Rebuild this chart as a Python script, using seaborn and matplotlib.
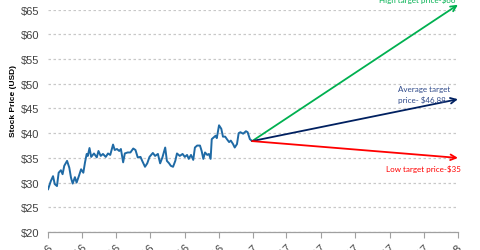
import matplotlib
matplotlib.use("Agg")
import matplotlib.pyplot as plt
import seaborn as sns
import pandas as pd

# ---- data ----
price_dates = [
    "2016-01-01", "2016-01-06", "2016-01-10", "2016-01-13", "2016-01-17", "2016-01-20",
    "2016-01-24", "2016-01-27", "2016-01-30", "2016-02-04", "2016-02-08", "2016-02-11",
    "2016-02-14", "2016-02-18", "2016-02-21", "2016-02-25", "2016-02-29", "2016-03-04",
    "2016-03-07", "2016-03-10", "2016-03-12", "2016-03-15", "2016-03-18", "2016-03-23",
    "2016-03-28", "2016-03-31", "2016-04-04", "2016-04-08", "2016-04-13", "2016-04-17",
    "2016-04-21", "2016-04-26", "2016-04-29", "2016-05-03", "2016-05-07", "2016-05-10",
    "2016-05-14", "2016-05-17", "2016-05-22", "2016-05-27", "2016-06-01", "2016-06-05",
    "2016-06-09", "2016-06-14", "2016-06-17", "2016-06-22", "2016-06-26", "2016-06-30",
    "2016-07-06", "2016-07-10", "2016-07-15", "2016-07-19", "2016-07-23", "2016-07-28",
    "2016-07-31", "2016-08-04", "2016-08-07", "2016-08-11", "2016-08-15", "2016-08-18",
    "2016-08-23", "2016-08-28", "2016-09-01", "2016-09-05", "2016-09-08", "2016-09-12",
    "2016-09-16", "2016-09-19", "2016-09-23", "2016-09-28", "2016-10-01", "2016-10-04",
    "2016-10-07", "2016-10-11", "2016-10-14", "2016-10-17", "2016-10-19", "2016-10-23",
    "2016-10-26", "2016-10-28", "2016-11-01", "2016-11-05", "2016-11-08", "2016-11-12",
    "2016-11-15", "2016-11-19", "2016-11-22", "2016-11-26", "2016-11-29", "2016-12-03",
    "2016-12-06", "2016-12-09", "2016-12-14", "2016-12-19", "2016-12-22", "2016-12-26",
    "2016-12-30",
]
prices = [
    28.6, 30.3, 31.3, 29.7, 29.3, 32.0,
    32.5, 31.7, 33.4, 34.4, 33.0, 31.0,
    29.8, 31.1, 30.0, 31.3, 32.7, 32.0,
    34.1, 35.8, 35.4, 37.0, 35.2, 35.9,
    35.1, 36.4, 35.4, 35.8, 35.2, 35.9,
    35.6, 37.7, 36.6, 36.8, 36.4, 36.8,
    34.1, 35.9, 36.1, 36.1, 36.9, 36.6,
    35.1, 35.2, 34.4, 33.2, 33.9, 35.2,
    36.0, 35.4, 35.8, 33.9, 35.1, 37.1,
    34.4, 33.9, 33.4, 33.2, 34.4, 35.9,
    35.4, 35.8, 35.2, 35.6, 34.8, 35.6,
    34.6, 37.1, 37.5, 37.5, 36.4, 34.8,
    36.1, 35.6, 35.8, 34.8, 38.8, 39.2,
    39.5, 39.0, 41.6, 40.9, 39.3, 39.3,
    38.8, 38.2, 38.5, 37.8, 37.1, 37.8,
    40.0, 40.2, 39.9, 40.4, 40.2, 38.8,
    38.4,
]
target_date = "2018-01-01"
target_names = ["High target price-$66", "Average target\nprice- $46.88", "Low target price-$35"]
target_values = [66.0, 46.88, 35.0]
target_colors = ["#00B050", "#002060", "#FF0000"]
target_text_colors = ["#00B050", "#2F4A8A", "#FF0000"]
xtick_dates = pd.date_range("2016-01-01", "2018-01-01", freq="2MS")
yticks = [20, 25, 30, 35, 40, 45, 50, 55, 60, 65]

df = pd.DataFrame({"date": pd.to_datetime(price_dates), "price": prices})

# ---- style ----
sns.set_style("white")
plt.rcParams["font.family"] = ["Liberation Sans", "DejaVu Sans"]

fig = plt.figure(figsize=(4.8, 2.51), dpi=100)
ax = fig.add_axes([0.1, 0.0717, 0.854, 0.8857])

sns.lineplot(data=df, x="date", y="price", ax=ax, color="#1F6AA5", linewidth=1.4)

start_date = df["date"].iloc[-1]
start_val = df["price"].iloc[-1]
tdate = pd.Timestamp(target_date)
for name, val, col in zip(target_names, target_values, target_colors):
    ax.annotate("", xy=(tdate, val), xytext=(start_date, start_val),
                arrowprops=dict(arrowstyle="->", color=col, lw=1.3,
                                shrinkA=0, shrinkB=0, mutation_scale=10),
                annotation_clip=False)

text_font = ["Lato", "DejaVu Sans"]
fs = 5.8
ax.annotate(target_names[0], xy=(tdate, target_values[0]), xytext=(-29, 1.5),
            textcoords="offset points", ha="center", va="bottom",
            color=target_text_colors[0], fontsize=fs, family=text_font,
            annotation_clip=False)
ax.annotate(target_names[1], xy=(tdate, target_values[1]), xytext=(-43, -2.5),
            textcoords="offset points", ha="left", va="bottom",
            color=target_text_colors[1], fontsize=fs, family=text_font,
            linespacing=1.45, annotation_clip=False)
ax.annotate(target_names[2], xy=(tdate, target_values[2]), xytext=(-52, -4.5),
            textcoords="offset points", ha="left", va="top",
            color=target_text_colors[2], fontsize=fs, family=text_font,
            annotation_clip=False)

ax.set_xlim(pd.Timestamp("2016-01-01"), tdate)
ax.set_ylim(20, 65)
ax.set_yticks(yticks)
ax.set_yticklabels([f"${v}" for v in yticks], fontsize=8, color="#404040")
ax.set_xticks(xtick_dates)
ax.set_xticklabels([d.strftime("%b-%y") for d in xtick_dates], fontsize=8,
                   color="#404040", rotation=45, ha="right", va="top",
                   rotation_mode="anchor")
ax.tick_params(axis="y", length=0, pad=6)
ax.tick_params(axis="x", length=4, width=0.8, color="#A0A0A0", direction="out",
               bottom=True, pad=3)

ax.yaxis.grid(True, linestyle=(0, (2, 2)), color="#C8C8C8", linewidth=0.9)
ax.xaxis.grid(False)
for side in ["left", "right", "top"]:
    ax.spines[side].set_visible(False)
ax.spines["bottom"].set_color("#A0A0A0")
ax.spines["bottom"].set_linewidth(0.9)

ax.set_xlabel("")
ax.set_ylabel("Stock Price (USD)", fontsize=6, fontweight="bold", color="black")
ax.yaxis.set_label_coords(-0.075, 0.594)

fig.savefig("out.png", dpi=100)
